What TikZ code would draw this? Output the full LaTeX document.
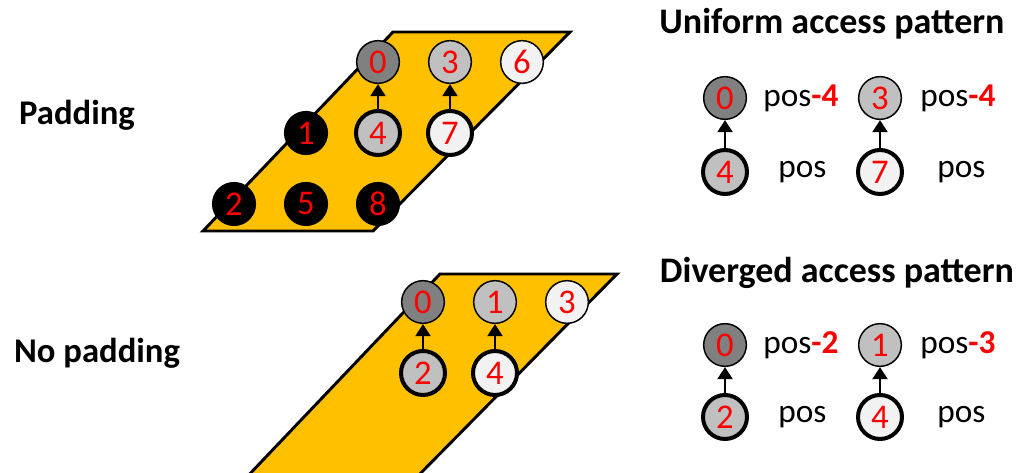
\documentclass[tikz,border=0pt]{standalone}
\usepackage{fontspec}
\setmainfont{Carlito}
\usetikzlibrary{arrows.meta}
\definecolor{gold}{HTML}{FFC000}
\definecolor{dgray}{HTML}{808080}
\definecolor{lgray}{HTML}{C0C0C0}
\definecolor{wgray}{HTML}{F2F2F2}
\begin{document}
\begin{tikzpicture}[x=0.75pt,y=-0.75pt,
  cell/.style={circle,draw=black,line width=1.1pt,minimum size=32pt,inner sep=0pt,
    font=\fontsize{26}{26}\selectfont, text=red},
  thk/.style={line width=3pt,minimum size=33pt},
  dk/.style={fill=dgray},
  lg/.style={fill=lgray},
  wg/.style={fill=wgray},
  bk/.style={fill=black},
  plate/.style={fill=gold,draw=black,line width=2.2pt,line join=miter},
  acc/.style={line width=2.2pt,-{Triangle[length=9pt,width=11pt]}},
  lbl/.style={font=\fontsize{26}{26}\selectfont\bfseries},
  ttl/.style={font=\fontsize{27}{27}\selectfont\bfseries},
  postxt/.style={anchor=west,font=\fontsize{25}{25}\selectfont,inner sep=0pt}]
\useasboundingbox (0,0) rectangle (1017,473);
% top plate
\draw[plate] (393,32) -- (570,32) -- (373,231) -- (203,231) -- cycle;
\node[cell,dk] (a0) at (378,62) {0};
\node[cell,lg] (a3) at (450,62) {3};
\node[cell,wg] (a6) at (522,62) {6};
\node[cell,bk] (a1) at (306,133) {1};
\node[cell,thk,lg] (a4) at (378,133) {4};
\node[cell,thk,wg] (a7) at (450,133) {7};
\node[cell,bk] (a2) at (234,204) {2};
\node[cell,bk] (a5) at (306,204) {5};
\node[cell,bk] (a8) at (378,204) {8};
\draw[acc] (a4) -- (a0);
\draw[acc] (a7) -- (a3);
% bottom plate
\begin{scope}
\clip (0,0) rectangle (1017,473);
\draw[plate] (440,274) -- (617,274) -- (414,480) -- (244,480) -- cycle;
\end{scope}
\node[cell,dk] (b0) at (423,302) {0};
\node[cell,lg] (b1) at (495,302) {1};
\node[cell,wg] (b3) at (567,302) {3};
\node[cell,thk,lg] (b2) at (423,373) {2};
\node[cell,thk,wg] (b4) at (495,373) {4};
\draw[acc] (b2) -- (b0);
\draw[acc] (b4) -- (b1);
% left labels
\node[lbl] (pad) at (77,115) {Padding};
\node[lbl] (nopad) at (97,353) {No padding};
% right: uniform
\node[ttl] (tu) at (832,24) {Uniform access pattern};
\node[cell,dk] (u0) at (725,98) {0};
\node[cell,lg] (u3) at (880,98) {3};
\node[cell,thk,lg] (u4) at (725,172) {4};
\node[cell,thk,wg] (u7) at (880,172) {7};
\draw[acc] (u4) -- (u0);
\draw[acc] (u7) -- (u3);
\node[postxt] (pu0) at (763,98) {pos{\bfseries\color{red}-4}};
\node[postxt] (pu3) at (920,98) {pos{\bfseries\color{red}-4}};
\node[postxt] (pu4) at (778,172) {pos};
\node[postxt] (pu7) at (937,172) {pos};
% right: diverged
\node[ttl] (td) at (837,273) {Diverged access pattern};
\node[cell,dk] (d0) at (725,345) {0};
\node[cell,lg] (d1) at (880,345) {1};
\node[cell,thk,lg] (d2) at (725,417) {2};
\node[cell,thk,wg] (d4) at (880,417) {4};
\draw[acc] (d2) -- (d0);
\draw[acc] (d4) -- (d1);
\node[postxt] (pd0) at (763,345) {pos{\bfseries\color{red}-2}};
\node[postxt] (pd1) at (920,345) {pos{\bfseries\color{red}-3}};
\node[postxt] (pd2) at (778,417) {pos};
\node[postxt] (pd4) at (937,417) {pos};
\end{tikzpicture}
\end{document}
